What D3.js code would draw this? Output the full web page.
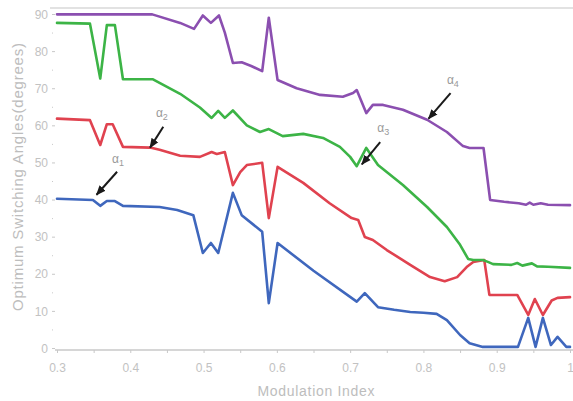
<!DOCTYPE html>
<html>
<head>
<meta charset="utf-8">
<script src="https://cdn.jsdelivr.net/npm/d3@7"></script>
<style>
  html, body { margin: 0; padding: 0; background: #fff; }
  svg { display: block; }
  text { font-family: "Liberation Sans", Arial, sans-serif; }
</style>
</head>
<body>
<script>
// Optimum switching angles (degrees) against modulation index, one curve per angle.
const alpha1 = [[0.30,40.2],[0.349,39.9],[0.359,38.3],[0.368,39.6],[0.379,39.6],[0.39,38.3],[0.44,38],[0.464,37.2],[0.486,35.8],[0.499,25.6],[0.51,28.3],[0.52,25.6],[0.54,41.8],[0.552,35.8],[0.58,31.3],[0.589,12.1],[0.601,28.3],[0.65,20.8],[0.709,12.5],[0.72,14.8],[0.738,11],[0.76,10.3],[0.782,9.7],[0.80,9.5],[0.818,9.2],[0.832,7.5],[0.85,3.5],[0.863,1.3],[0.881,0.3],[0.929,0.3],[0.943,8.1],[0.953,0.3],[0.963,8.1],[0.974,0.8],[0.983,3],[0.995,0.3],[1.0,0.3]];
const alpha2 = [[0.30,61.8],[0.345,61.4],[0.359,54.7],[0.368,60.3],[0.376,60.3],[0.39,54.2],[0.427,54],[0.44,53.4],[0.468,51.8],[0.495,51.5],[0.511,52.8],[0.518,52.3],[0.529,52.8],[0.54,43.9],[0.55,47.4],[0.559,49.3],[0.58,49.9],[0.589,35],[0.601,48.8],[0.636,44.5],[0.672,39],[0.702,35],[0.711,34.5],[0.72,29.9],[0.731,29.1],[0.75,26.4],[0.782,22.4],[0.809,19.1],[0.829,18],[0.846,19.1],[0.859,21.8],[0.868,23.2],[0.883,23.7],[0.89,14.3],[0.928,14.3],[0.943,8.9],[0.952,13.2],[0.963,8.9],[0.975,12.8],[0.983,13.5],[1.0,13.7]];
const alpha3 = [[0.30,87.6],[0.345,87.4],[0.359,72.6],[0.368,87],[0.379,87],[0.39,72.4],[0.431,72.4],[0.468,68.5],[0.495,64.8],[0.511,62],[0.52,63.9],[0.529,62],[0.54,64],[0.559,60],[0.577,58.2],[0.589,59],[0.608,57.1],[0.636,57.7],[0.663,56.6],[0.686,54.2],[0.70,51.5],[0.709,49],[0.722,53.9],[0.738,49.3],[0.772,43.9],[0.805,38],[0.832,32.6],[0.85,27.8],[0.861,24],[0.868,23.7],[0.881,23.7],[0.888,23.2],[0.895,22.6],[0.92,22.4],[0.928,22.9],[0.935,22.2],[0.948,22.8],[0.955,22],[0.97,21.9],[1.0,21.6]];
const alpha4 = [[0.30,89.9],[0.43,89.9],[0.468,87.6],[0.487,86],[0.499,89.6],[0.51,87.6],[0.521,89.6],[0.529,85],[0.54,76.8],[0.552,77],[0.565,76],[0.58,74.6],[0.589,89],[0.601,72.2],[0.627,70],[0.659,68.2],[0.69,67.7],[0.704,68.7],[0.709,69.5],[0.722,63.3],[0.731,65.5],[0.745,65.5],[0.772,64.2],[0.805,61.5],[0.832,58.2],[0.854,54.4],[0.863,53.9],[0.882,53.9],[0.891,39.9],[0.91,39.4],[0.93,39],[0.94,38.6],[0.945,39.2],[0.95,38.6],[0.96,39],[0.97,38.6],[1.0,38.5]];

const seriesNames = ["1", "2", "3", "4"];
const seriesColors = ["#3f67bd", "#e0424f", "#3cb446", "#8b4fb0"];

const xTicks = [0.3, 0.4, 0.5, 0.6, 0.7, 0.8, 0.9, 1];
const xTickLabels = ["0.3", "0.4", "0.5", "0.6", "0.7", "0.8", "0.9", "1"];
const yTicks = [0, 10, 20, 30, 40, 50, 60, 70, 80, 90];

// Arrow callouts: [tail m, tail v, head m, head v] for each angle
const arrows = [
  [0.382, 47.5, 0.354, 41.3],
  [0.445, 59.6, 0.427, 54.0],
  [0.741, 55.5, 0.716, 49.5],
  [0.837, 68.7, 0.807, 61.8]
];
// Label anchor positions [m, v]
const labelPos = [
  [0.375, 49.8],
  [0.435, 62.2],
  [0.737, 58.3],
  [0.832, 71.2]
];

const W = 573, H = 401;
const svg = d3.select("body").append("svg").attr("width", W).attr("height", H);

const x = d3.scaleLinear().domain([0.3, 1]).range([57, 570]);
const y = d3.scaleLinear().domain([0, 90]).range([348, 14]);

const tickColor = "#c2c2c2";

// top frame line
svg.append("line")
  .attr("x1", 50).attr("x2", W).attr("y1", 8).attr("y2", 8)
  .attr("stroke", "#e2e2e2").attr("stroke-width", 2);

// x axis
const xAxisY = 350;
const xAxis = d3.axisBottom(x)
  .tickValues(d3.range(0.3, 1.0001, 0.05))
  .tickSize(3)
  .tickFormat(() => "");
const gx = svg.append("g").attr("transform", `translate(0,${xAxisY})`).call(xAxis);
gx.select(".domain").attr("stroke", "#c8c8c8").attr("stroke-width", 1.5)
  .attr("d", `M55,0H${W}`);
gx.selectAll(".tick line").attr("stroke", "#c8c8c8");
gx.selectAll(".tick")
  .filter(d => xTicks.some(t => Math.abs(t - d) < 1e-6))
  .append("text")
  .attr("y", 22)
  .attr("fill", tickColor)
  .attr("font-size", 12)
  .attr("text-anchor", "middle")
  .text(d => xTickLabels[xTicks.findIndex(t => Math.abs(t - d) < 1e-6)]);

// y axis (ticks and labels only)
const yAxis = d3.axisLeft(y)
  .tickValues(d3.range(0, 90.001, 5))
  .tickSize(3)
  .tickFormat(() => "");
const gy = svg.append("g").attr("transform", "translate(52,0)").call(yAxis);
gy.select(".domain").remove();
gy.selectAll(".tick line").attr("stroke", "#c8c8c8")
  .attr("x2", d => (d % 10 === 0 ? 3 : 1)).attr("x1", 0);
gy.selectAll(".tick")
  .filter(d => yTicks.includes(Math.round(d)) && Math.abs(d % 10) < 1e-6)
  .append("text")
  .attr("x", -4).attr("dy", "0.35em")
  .attr("fill", tickColor)
  .attr("font-size", 12)
  .attr("text-anchor", "end")
  .text(d => d);

// axis titles
svg.append("text")
  .attr("x", 316).attr("y", 396)
  .attr("text-anchor", "middle")
  .attr("fill", "#bdbdbd").attr("font-size", 14)
  .attr("textLength", 117).attr("lengthAdjust", "spacing")
  .text("Modulation Index");
svg.append("text")
  .attr("transform", "translate(23,177) rotate(-90)")
  .attr("text-anchor", "middle")
  .attr("fill", "#bdbdbd").attr("font-size", 15)
  .attr("textLength", 268).attr("lengthAdjust", "spacing")
  .text("Optimum Switching Angles(degrees)");

// curves
const line = d3.line().x(d => x(d[0])).y(d => y(d[1]));
const allSeries = [alpha1, alpha2, alpha3, alpha4];
svg.append("g").selectAll("path")
  .data(allSeries)
  .join("path")
  .attr("d", line)
  .attr("fill", "none")
  .attr("stroke", (d, i) => seriesColors[i])
  .attr("stroke-width", 2.6)
  .attr("stroke-linejoin", "round")
  .attr("stroke-linecap", "round");

// arrow callouts
svg.append("defs").append("marker")
  .attr("id", "head")
  .attr("viewBox", "0 0 10 10")
  .attr("refX", 9).attr("refY", 5)
  .attr("markerWidth", 5).attr("markerHeight", 5)
  .attr("orient", "auto")
  .append("path").attr("d", "M0,1L10,5L0,9Z").attr("fill", "#1a1a1a");

svg.append("g").selectAll("line")
  .data(arrows)
  .join("line")
  .attr("x1", d => x(d[0])).attr("y1", d => y(d[1]))
  .attr("x2", d => x(d[2])).attr("y2", d => y(d[3]))
  .attr("stroke", "#1a1a1a").attr("stroke-width", 2)
  .attr("marker-end", "url(#head)");

const labels = svg.append("g").selectAll("text")
  .data(labelPos)
  .join("text")
  .attr("x", d => x(d[0])).attr("y", d => y(d[1]))
  .attr("fill", "#9a9a9a").attr("font-size", 12);
labels.append("tspan").text("α");
labels.append("tspan").attr("dy", 3).attr("font-size", 9).text((d, i) => seriesNames[i]);
</script>
</body>
</html>
